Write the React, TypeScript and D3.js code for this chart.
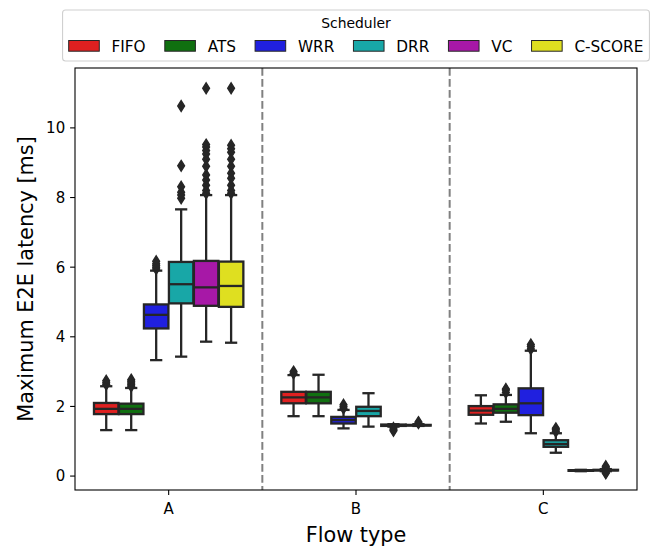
import React, { useMemo } from "react";
import * as d3 from "d3";

const categories = ["A", "B", "C"];
const schedulers = ["FIFO", "ATS", "WRR", "DRR", "VC", "C-SCORE"];
const schedulerColors = ["#df2020", "#107010", "#2020df", "#18a7a7", "#a718a7", "#dfdf20"];
const yTicks = [0, 2, 4, 6, 8, 10];

// per flow type: [lower whisker, q1, median, q3, upper whisker]
const fifoStats = [
  [1.32, 1.78, 1.93, 2.1, 2.58],
  [1.72, 2.09, 2.26, 2.42, 2.9],
  [1.51, 1.76, 1.88, 2.01, 2.32],
];
const fifoFliers = [[2.63, 2.68, 2.74], [2.95, 3.0], []];

const atsStats = [
  [1.32, 1.78, 1.93, 2.08, 2.53],
  [1.72, 2.09, 2.26, 2.42, 2.91],
  [1.56, 1.82, 1.93, 2.06, 2.33],
];
const atsFliers = [[2.58, 2.62, 2.67, 2.72, 2.77], [], [2.4, 2.47, 2.5]];

const wrrStats = [
  [3.33, 4.24, 4.63, 4.93, 5.9],
  [1.37, 1.51, 1.61, 1.7, 1.9],
  [1.23, 1.75, 2.09, 2.52, 3.6],
];
const wrrFliers = [[5.95, 6.0, 6.05, 6.1, 6.17], [1.95, 2.0, 2.05], [3.65, 3.72, 3.78]];

const drrStats = [
  [3.43, 4.96, 5.51, 6.15, 7.66],
  [1.42, 1.72, 1.87, 1.99, 2.38],
  [0.67, 0.84, 0.92, 1.03, 1.23],
];
const drrFliers = [[7.98, 8.07, 8.15, 8.31, 8.91, 10.63], [], [1.28, 1.33, 1.37]];

const vcStats = [
  [3.86, 4.89, 5.42, 6.18, 8.07],
  [1.42, 1.44, 1.46, 1.48, 1.49],
  [0.14, 0.15, 0.16, 0.17, 0.18],
];
const vcFliers = [
  [8.12, 8.2, 8.35, 8.5, 8.65, 8.9, 9.1, 9.25, 9.35, 9.45, 9.52, 11.14],
  [1.38, 1.33, 1.3],
  [],
];

const cscoreStats = [
  [3.83, 4.86, 5.46, 6.16, 8.07],
  [1.44, 1.45, 1.46, 1.47, 1.49],
  [0.14, 0.16, 0.17, 0.18, 0.2],
];
const cscoreFliers = [
  [8.12, 8.2, 8.35, 8.55, 8.7, 8.9, 9.1, 9.3, 9.4, 9.5, 11.14],
  [1.52, 1.55],
  [0.1, 0.25, 0.28, 0.08],
];

const allStats = [fifoStats, atsStats, wrrStats, drrStats, vcStats, cscoreStats];
const allFliers = [fifoFliers, atsFliers, wrrFliers, drrFliers, vcFliers, cscoreFliers];

const W = 658;
const H = 546;
const plot = { left: 75, right: 637, top: 68, bottom: 490 };
const font = "'DejaVu Sans', sans-serif";
const gray = "#262626";
const tickFs = 15;
const legFs = 15.3;
const lw = 2.3;

export default function App() {
  const x = d3.scaleBand().domain(categories).range([plot.left, plot.right]);
  const bw = x.bandwidth();
  const hue = d3.scaleBand().domain(schedulers).range([0.1 * bw, 0.9 * bw]);
  const boxW = hue.bandwidth() * 0.98;
  const y = d3.scaleLinear().domain([-0.4, 11.72]).range([plot.bottom, plot.top]);

  const textWidths = useMemo(() => {
    const ctx = document.createElement("canvas").getContext("2d");
    if (!ctx) return schedulers.map((s) => s.length * legFs * 0.65);
    ctx.font = `${legFs}px 'DejaVu Sans'`;
    return schedulers.map((s) => ctx.measureText(s).width);
  }, []);

  // legend layout like matplotlib
  const handleLen = 2 * legFs;
  const textPad = 0.8 * legFs;
  const colSpace = 1.25 * legFs;
  const borderPad = 0.4 * legFs;
  const entryW = textWidths.map((w) => handleLen + textPad + w);
  const legendW = 2 * borderPad + d3.sum(entryW) + colSpace * (schedulers.length - 1);
  const legendX = (plot.left + plot.right) / 2 - legendW / 2;
  let cursor = legendX + borderPad;
  const entryX = entryW.map((w) => {
    const pos = cursor;
    cursor += w + colSpace;
    return pos;
  });

  const diamond = (cx: number, cy: number) => {
    const h = 5.4;
    const w = 3.4;
    return `M${cx},${cy - h}L${cx + w},${cy}L${cx},${cy + h}L${cx - w},${cy}Z`;
  };

  return (
    <svg
      width={W}
      height={H}
      style={{ position: "absolute", left: 0, top: 0, background: "#fff" }}
      fontFamily={font}
    >
      {/* separators */}
      {categories.slice(1).map((c) => (
        <line
          key={c}
          x1={x(c)}
          x2={x(c)}
          y1={plot.top}
          y2={plot.bottom}
          stroke="#808080"
          strokeWidth={2}
          strokeDasharray="7.7,3.3"
        />
      ))}

      {/* boxes */}
      {schedulers.map((s, si) =>
        categories.map((c, ci) => {
          const [lo, q1, med, q3, hi] = allStats[si][ci];
          const cx = (x(c) ?? 0) + (hue(s) ?? 0) + hue.bandwidth() / 2;
          return (
            <g key={s + c}>
              <line x1={cx} x2={cx} y1={y(q1)} y2={y(lo)} stroke={gray} strokeWidth={lw} />
              <line x1={cx} x2={cx} y1={y(q3)} y2={y(hi)} stroke={gray} strokeWidth={lw} />
              <line x1={cx - boxW / 4} x2={cx + boxW / 4} y1={y(lo)} y2={y(lo)} stroke={gray} strokeWidth={lw} />
              <line x1={cx - boxW / 4} x2={cx + boxW / 4} y1={y(hi)} y2={y(hi)} stroke={gray} strokeWidth={lw} />
              <rect
                x={cx - boxW / 2}
                y={y(q3)}
                width={boxW}
                height={Math.max(0, y(q1) - y(q3))}
                fill={schedulerColors[si]}
                stroke={gray}
                strokeWidth={lw}
              />
              <line x1={cx - boxW / 2} x2={cx + boxW / 2} y1={y(med)} y2={y(med)} stroke={gray} strokeWidth={lw} />
              {allFliers[si][ci].map((v, k) => (
                <path key={k} d={diamond(cx, y(v))} fill={gray} stroke={gray} strokeWidth={1.4} />
              ))}
            </g>
          );
        })
      )}

      {/* frame */}
      <rect
        x={plot.left}
        y={plot.top}
        width={plot.right - plot.left}
        height={plot.bottom - plot.top}
        fill="none"
        stroke="#000"
        strokeWidth={1.1}
      />

      {/* y axis */}
      {yTicks.map((t) => (
        <g key={t}>
          <line x1={plot.left - 4.9} x2={plot.left} y1={y(t)} y2={y(t)} stroke="#000" strokeWidth={1.1} />
          <text x={plot.left - 9.8} y={y(t)} dy="0.36em" textAnchor="end" fontSize={tickFs} fill="#000">
            {t}
          </text>
        </g>
      ))}
      <text
        transform={`translate(33,${(plot.top + plot.bottom) / 2}) rotate(-90)`}
        textAnchor="middle"
        fontSize={20.8}
        fill="#000"
      >
        Maximum E2E latency [ms]
      </text>

      {/* x axis */}
      {categories.map((c) => {
        const cx = (x(c) ?? 0) + bw / 2;
        return (
          <g key={c}>
            <line x1={cx} x2={cx} y1={plot.bottom} y2={plot.bottom + 4.9} stroke="#000" strokeWidth={1.1} />
            <text x={cx} y={plot.bottom + 23.5} textAnchor="middle" fontSize={tickFs} fill="#000">
              {c}
            </text>
          </g>
        );
      })}
      <text x={(plot.left + plot.right) / 2} y={542} textAnchor="middle" fontSize={20.8} fill="#000">
        Flow type
      </text>

      {/* legend */}
      <rect
        x={legendX}
        y={10}
        width={legendW}
        height={51}
        rx={3}
        fill="#fff"
        fillOpacity={0.8}
        stroke="#d0d0d0"
        strokeWidth={1.1}
      />
      <text x={legendX + legendW / 2} y={28} textAnchor="middle" fontSize={13.9} fill="#000">
        Scheduler
      </text>
      {schedulers.map((s, i) => (
        <g key={s}>
          <rect
            x={entryX[i]}
            y={40.5}
            width={handleLen}
            height={0.7 * legFs}
            fill={schedulerColors[i]}
            stroke={gray}
            strokeWidth={1}
          />
          <text x={entryX[i] + handleLen + textPad} y={51.5} fontSize={legFs} fill="#000">
            {s}
          </text>
        </g>
      ))}
    </svg>
  );
}
